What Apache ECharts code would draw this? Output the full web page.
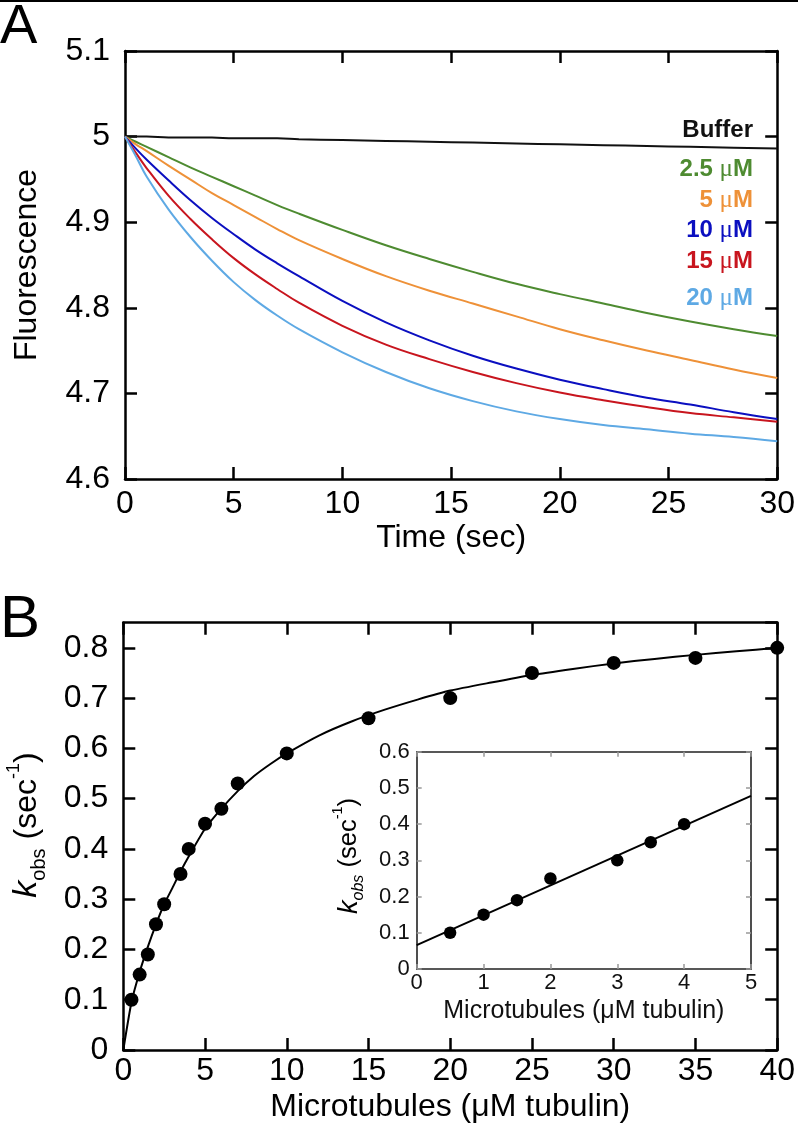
<!DOCTYPE html>
<html>
<head>
<meta charset="utf-8">
<script src="https://cdn.jsdelivr.net/npm/echarts@6/dist/echarts.min.js"></script>
<style>
html,body{margin:0;padding:0;background:#fff;}
#chart{width:798px;height:1124px;}
</style>
</head>
<body>
<div id="chart"></div>
<script>
// ---------- Panel A data ----------
const timeA = [0, 0.5, 1, 2, 3, 4, 5, 6, 7, 8, 10, 12, 14, 16, 18, 20, 22, 24, 26, 28, 30];
const bufferA = [5.000, 5.000, 5.000, 4.999, 4.999, 4.999, 4.998, 4.998, 4.998, 4.997, 4.996, 4.995, 4.994, 4.993, 4.992, 4.991, 4.990, 4.989, 4.988, 4.987, 4.986];
const mt25 = [5.000, 4.994, 4.988, 4.976, 4.964, 4.953, 4.942, 4.931, 4.920, 4.910, 4.891, 4.873, 4.857, 4.842, 4.828, 4.816, 4.805, 4.794, 4.784, 4.775, 4.767];
const mt5 = [5.000, 4.991, 4.983, 4.966, 4.950, 4.934, 4.920, 4.906, 4.892, 4.879, 4.857, 4.837, 4.820, 4.805, 4.790, 4.775, 4.762, 4.750, 4.739, 4.728, 4.718];
const mt10 = [5.000, 4.986, 4.973, 4.949, 4.926, 4.905, 4.886, 4.868, 4.852, 4.837, 4.808, 4.783, 4.762, 4.744, 4.729, 4.716, 4.705, 4.695, 4.687, 4.678, 4.670];
const mt15 = [5.000, 4.981, 4.963, 4.931, 4.904, 4.880, 4.858, 4.839, 4.822, 4.806, 4.779, 4.757, 4.740, 4.725, 4.712, 4.701, 4.692, 4.684, 4.677, 4.672, 4.667];
const mt20 = [5.000, 4.977, 4.953, 4.915, 4.883, 4.855, 4.830, 4.809, 4.791, 4.775, 4.748, 4.725, 4.706, 4.691, 4.679, 4.670, 4.663, 4.658, 4.653, 4.649, 4.644];
const seriesNamesA = ['Buffer', '2.5 μM', '5 μM', '10 μM', '15 μM', '20 μM'];
const seriesColorsA = ['#111111', '#4e8b31', '#ee9138', '#0b0fc0', '#c8151e', '#5ea9e4'];

// ---------- Panel B data ----------
const mtB = [0.5, 1, 1.5, 2, 2.5, 3.5, 4, 5, 6, 7, 10, 15, 20, 25, 30, 35, 40];
const kobsB = [0.10, 0.15, 0.19, 0.25, 0.29, 0.35, 0.40, 0.45, 0.48, 0.53, 0.59, 0.66, 0.70, 0.75, 0.77, 0.78, 0.80];
const fitXB = [0, 0.5, 1, 1.5, 2, 2.5, 3, 3.5, 4, 5, 6, 7, 8, 9, 10, 12, 14, 16, 18, 20, 22.5, 25, 27.5, 30, 32.5, 35, 37.5, 40];
const fitYB = [0, 0.095, 0.155, 0.205, 0.25, 0.29, 0.322, 0.355, 0.385, 0.44, 0.48, 0.515, 0.545, 0.569, 0.59, 0.626, 0.654, 0.677, 0.697, 0.715, 0.731, 0.746, 0.758, 0.769, 0.778, 0.786, 0.793, 0.800];

// ---------- Inset data ----------
const mtInset = [0.5, 1, 1.5, 2, 3, 3.5, 4];
const kobsInset = [0.10, 0.15, 0.19, 0.25, 0.30, 0.35, 0.40];
const fitXInset = [0, 5];
const fitYInset = [0.066, 0.478];

const FONT = '"Liberation Sans", Arial, Helvetica, sans-serif';
const chart = echarts.init(document.getElementById('chart'), null, {renderer: 'canvas'});

function pairs(xs, ys) { return xs.map((x, i) => [x, ys[i]]); }

function axisCommon(o) {
  return Object.assign({
    type: 'value',
    splitLine: {show: false},
    axisLine: {show: true, onZero: false, lineStyle: {color: '#000', width: 2.5}},
    axisTick: {show: true, inside: true, length: 12, lineStyle: {color: '#000', width: 2.5}},
    axisLabel: {show: true, color: '#000', fontSize: 32, fontFamily: FONT},
    nameTextStyle: {color: '#000', fontSize: 32, fontFamily: FONT}
  }, o);
}
function mirror(o) {
  return axisCommon(Object.assign({axisLabel: {show: false}}, o));
}
function insetAxis(o) {
  return Object.assign({
    type: 'value',
    splitLine: {show: false},
    axisLine: {show: true, onZero: false, lineStyle: {color: '#222', width: 1.6}},
    axisTick: {show: true, inside: true, length: 5, lineStyle: {color: '#999', width: 1.5}},
    axisLabel: {show: true, color: '#111', fontSize: 22, fontFamily: FONT},
    nameTextStyle: {color: '#111', fontSize: 25, fontFamily: FONT}
  }, o);
}

const dataA = [bufferA, mt25, mt5, mt10, mt15, mt20];
const seriesA = dataA.map((arr, i) => ({
  type: 'line', name: seriesNamesA[i], xAxisIndex: 0, yAxisIndex: 0,
  data: pairs(timeA, arr), showSymbol: false, smooth: 0.4,
  lineStyle: {color: seriesColorsA[i], width: 2}, itemStyle: {color: seriesColorsA[i]}, z: 3
}));

const labelYs = [130.5, 169, 200, 230, 261, 298];
const legendTexts = seriesNamesA.map((name, i) => {
  const parts = name.split('μ');
  const txt = parts.length > 1 ? '{b|' + parts[0] + '}{m|μ}{b|' + parts[1] + '}' : '{b|' + name + '}';
  return {
    type: 'text', x: 753, y: labelYs[i], z: 10,
    style: {
      text: txt, align: 'right', verticalAlign: 'middle', textAlign: 'right', textVerticalAlign: 'middle',
      fill: seriesColorsA[i],
      rich: {
        b: {fontSize: 24, fontWeight: 'bold', fontFamily: FONT, fill: seriesColorsA[i], color: seriesColorsA[i]},
        m: {fontSize: 25, fontWeight: 'normal', fontFamily: '"Liberation Serif", "DejaVu Serif", serif', fill: seriesColorsA[i], color: seriesColorsA[i]}
      }
    }
  };
});

function kobsLabel(x, y, s) {
  return {
    type: 'text', x: x, y: y, rotation: Math.PI / 2, z: 10,
    style: {
      text: '{k|k}{sub|obs}{t| (sec}{sup|-1}{t|)}',
      align: 'center', verticalAlign: 'middle', textAlign: 'center', textVerticalAlign: 'middle',
      fill: '#000',
      rich: {
        k: {fontSize: 34 * s, fontStyle: 'italic', fontFamily: FONT, lineHeight: 44 * s, fill: '#000'},
        sub: {fontSize: 20 * s, fontStyle: s < 1 ? 'italic' : 'normal', fontFamily: FONT, verticalAlign: 'bottom', lineHeight: 20 * s, fill: '#000'},
        t: {fontSize: 32 * s, fontFamily: FONT, lineHeight: 44 * s, fill: '#000'},
        sup: {fontSize: 18 * s, fontFamily: FONT, verticalAlign: 'top', lineHeight: 18 * s, fill: '#000'}
      }
    }
  };
}

const option = {
  animation: false,
  backgroundColor: '#fff',
  textStyle: {fontFamily: FONT},
  grid: [
    {left: 125, top: 51, width: 656, height: 428},
    {left: 123.3, top: 622.7, width: 656, height: 428.3},
    {left: 416.7, top: 751.7, width: 334.3, height: 217.3}
  ],
  xAxis: [
    axisCommon({gridIndex: 0, position: 'bottom', min: 0, max: 30, interval: 5,
      axisLabel: {show: true, color: '#000', fontSize: 32, fontFamily: FONT, margin: 9},
      name: 'Time (sec)', nameLocation: 'middle', nameGap: 43}),
    mirror({gridIndex: 0, position: 'top', min: 0, max: 30, interval: 5}),
    axisCommon({gridIndex: 1, position: 'bottom', min: 0, max: 40, interval: 5,
      axisLabel: {show: true, color: '#000', fontSize: 32, fontFamily: FONT, margin: 5},
      name: 'Microtubules (μM tubulin)', nameLocation: 'middle', nameGap: 41}),
    mirror({gridIndex: 1, position: 'top', min: 0, max: 40, interval: 5}),
    insetAxis({gridIndex: 2, position: 'bottom', min: 0, max: 5, interval: 1,
      axisLabel: {show: true, color: '#111', fontSize: 22, fontFamily: FONT, margin: 3},
      name: 'Microtubules (μM tubulin)', nameLocation: 'middle', nameGap: 30}),
    insetAxis({gridIndex: 2, position: 'top', min: 0, max: 5, interval: 1, axisLabel: {show: false}})
  ],
  yAxis: [
    axisCommon({gridIndex: 0, position: 'left', min: 4.6, max: 5.1, interval: 0.1,
      axisLabel: {show: true, color: '#000', fontSize: 32, fontFamily: FONT, margin: 15},
      name: 'Fluorescence', nameLocation: 'middle', nameGap: 82, nameRotate: 90}),
    mirror({gridIndex: 0, position: 'right', min: 4.6, max: 5.1, interval: 0.1}),
    axisCommon({gridIndex: 1, position: 'left', min: 0, max: 0.85, interval: 0.1,
      axisLabel: {show: true, color: '#000', fontSize: 32, fontFamily: FONT, margin: 15, showMaxLabel: false}}),
    mirror({gridIndex: 1, position: 'right', min: 0, max: 0.85, interval: 0.1}),
    insetAxis({gridIndex: 2, position: 'left', min: 0, max: 0.6, interval: 0.1,
      axisLabel: {show: true, color: '#111', fontSize: 22, fontFamily: FONT, margin: 7}}),
    insetAxis({gridIndex: 2, position: 'right', min: 0, max: 0.6, interval: 0.1, axisLabel: {show: false}})
  ],
  series: seriesA.concat([
    {type: 'line', xAxisIndex: 2, yAxisIndex: 2, data: pairs(fitXB, fitYB), showSymbol: false,
      smooth: 0.2, lineStyle: {color: '#000', width: 2}, z: 3},
    {type: 'scatter', xAxisIndex: 2, yAxisIndex: 2, data: pairs(mtB, kobsB), symbol: 'circle',
      symbolSize: 14, itemStyle: {color: '#000', opacity: 1}, z: 4},
    {type: 'line', xAxisIndex: 4, yAxisIndex: 4, data: pairs(fitXInset, fitYInset), showSymbol: false,
      lineStyle: {color: '#000', width: 2}, z: 3},
    {type: 'scatter', xAxisIndex: 4, yAxisIndex: 4, data: pairs(mtInset, kobsInset), symbol: 'circle',
      symbolSize: 12.5, itemStyle: {color: '#000', opacity: 1}, z: 4}
  ]),
  graphic: [
    {type: 'line', shape: {x1: 0, y1: 1, x2: 798, y2: 1}, style: {stroke: '#000', lineWidth: 2}},
    {type: 'text', x: 0, y: 28, style: {text: 'A', font: '56px ' + FONT, fill: '#000',
      align: 'left', verticalAlign: 'middle', textAlign: 'left', textVerticalAlign: 'middle'}},
    {type: 'text', x: 0, y: 620, style: {text: 'B', font: '60px ' + FONT, fill: '#000',
      align: 'left', verticalAlign: 'middle', textAlign: 'left', textVerticalAlign: 'middle'}},
    kobsLabel(27, 825, 1),
    kobsLabel(349, 856, 0.8)
  ].concat(legendTexts)
};
chart.setOption(option);
</script>
</body>
</html>
